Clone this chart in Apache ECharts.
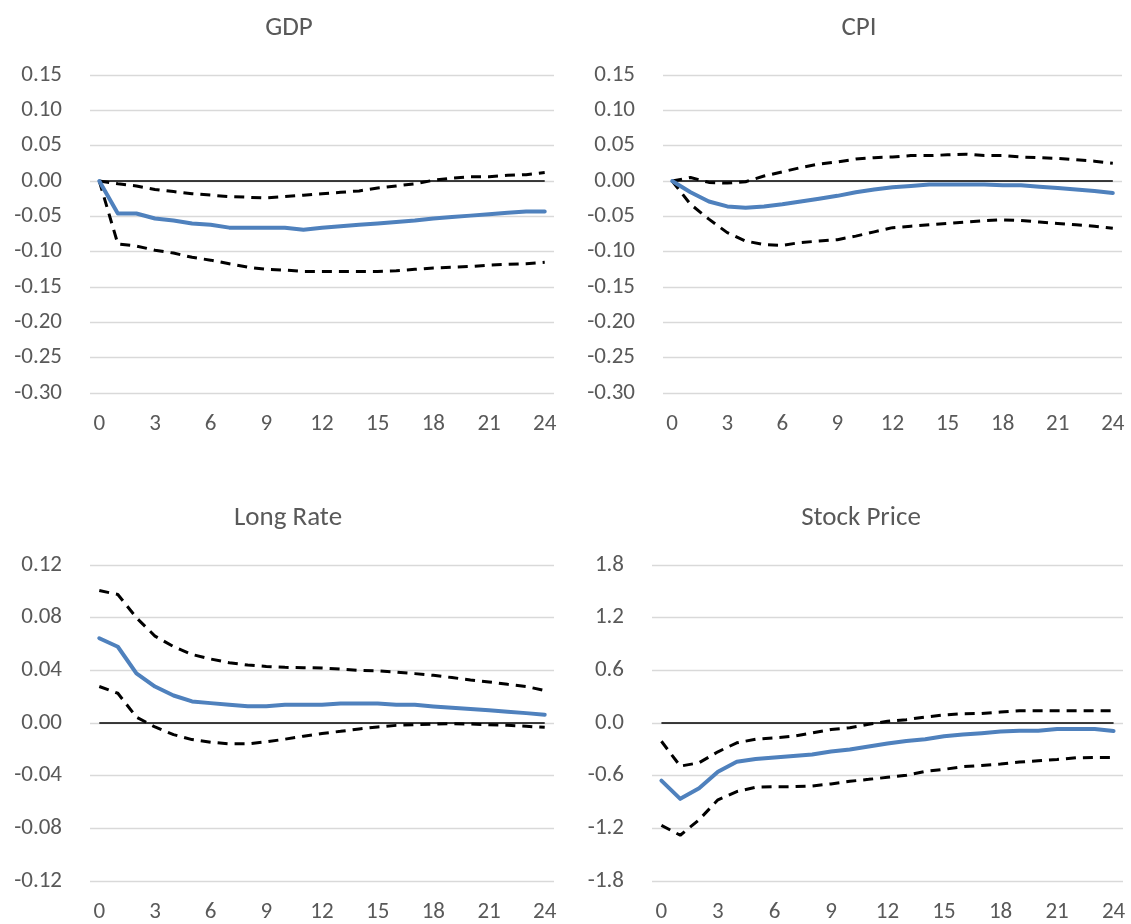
<!DOCTYPE html>
<html>
<head>
<meta charset="utf-8">
<script src="https://cdn.jsdelivr.net/npm/echarts@6/dist/echarts.min.js"></script>
<style>
html,body{margin:0;padding:0;background:#fff;}
#chart{width:1131px;height:924px;}
</style>
</head>
<body>
<div id="chart"></div>
<script>
// Horizons (categories)
const horizons = ['0','1','2','3','4','5','6','7','8','9','10','11','12','13','14','15','16','17','18','19','20','21','22','23','24'];

// Panel titles
const panelTitles = ['GDP', 'CPI', 'Long Rate', 'Stock Price'];

// Y tick labels per panel
const gdpTicks = [-0.30, -0.25, -0.20, -0.15, -0.10, -0.05, 0.00, 0.05, 0.10, 0.15];
const cpiTicks = [-0.30, -0.25, -0.20, -0.15, -0.10, -0.05, 0.00, 0.05, 0.10, 0.15];
const rateTicks = [-0.12, -0.08, -0.04, 0.00, 0.04, 0.08, 0.12];
const stockTicks = [-1.8, -1.2, -0.6, 0.0, 0.6, 1.2, 1.8];

// GDP
const gdpMid = [0, -0.046, -0.046, -0.053, -0.056, -0.060, -0.062, -0.066, -0.066, -0.066, -0.066, -0.069, -0.066, -0.064, -0.062, -0.060, -0.058, -0.056, -0.053, -0.051, -0.049, -0.047, -0.045, -0.043, -0.043];
const gdpUpper = [0, -0.004, -0.007, -0.012, -0.015, -0.018, -0.020, -0.022, -0.023, -0.024, -0.022, -0.020, -0.018, -0.016, -0.014, -0.010, -0.007, -0.004, 0.001, 0.004, 0.006, 0.006, 0.008, 0.009, 0.012];
const gdpLower = [0, -0.089, -0.092, -0.098, -0.102, -0.108, -0.112, -0.117, -0.122, -0.125, -0.126, -0.128, -0.128, -0.128, -0.128, -0.128, -0.127, -0.125, -0.123, -0.122, -0.121, -0.119, -0.118, -0.117, -0.115];

// CPI
const cpiMid = [0, -0.016, -0.029, -0.036, -0.038, -0.036, -0.033, -0.029, -0.025, -0.021, -0.016, -0.012, -0.009, -0.007, -0.005, -0.005, -0.005, -0.005, -0.006, -0.006, -0.008, -0.010, -0.012, -0.014, -0.017];
const cpiUpper = [0, 0.005, -0.002, -0.003, -0.001, 0.007, 0.013, 0.019, 0.024, 0.027, 0.031, 0.033, 0.034, 0.036, 0.036, 0.037, 0.038, 0.036, 0.036, 0.034, 0.033, 0.032, 0.030, 0.028, 0.025];
const cpiLower = [0, -0.033, -0.054, -0.073, -0.085, -0.090, -0.091, -0.087, -0.085, -0.083, -0.078, -0.072, -0.066, -0.064, -0.062, -0.060, -0.058, -0.056, -0.055, -0.056, -0.058, -0.060, -0.062, -0.064, -0.067];

// Long Rate
const rateMid = [0.0644, 0.0579, 0.0377, 0.0277, 0.0209, 0.0164, 0.0151, 0.0138, 0.0128, 0.0128, 0.0138, 0.0138, 0.0138, 0.0148, 0.0148, 0.0148, 0.0138, 0.0138, 0.0126, 0.0116, 0.0106, 0.0096, 0.0086, 0.0075, 0.0063];
const rateUpper = [0.1006, 0.0976, 0.080, 0.066, 0.058, 0.052, 0.0486, 0.0458, 0.044, 0.043, 0.0423, 0.042, 0.0418, 0.041, 0.040, 0.0397, 0.0387, 0.0375, 0.0362, 0.0345, 0.0327, 0.0312, 0.0294, 0.0277, 0.0247];
const rateLower = [0.0277, 0.0226, 0.0045, -0.003, -0.0088, -0.0126, -0.0146, -0.0158, -0.0158, -0.0143, -0.0123, -0.010, -0.008, -0.0063, -0.0045, -0.003, -0.0018, -0.0013, -0.0008, -0.0005, -0.0008, -0.0013, -0.0018, -0.0025, -0.0033];

// Stock Price
const stockMid = [-0.657, -0.864, -0.743, -0.555, -0.442, -0.411, -0.392, -0.377, -0.358, -0.325, -0.302, -0.268, -0.234, -0.204, -0.185, -0.151, -0.132, -0.117, -0.098, -0.087, -0.087, -0.068, -0.068, -0.068, -0.091];
const stockUpper = [-0.208, -0.491, -0.453, -0.328, -0.226, -0.185, -0.170, -0.151, -0.113, -0.075, -0.053, -0.015, 0.019, 0.038, 0.068, 0.091, 0.106, 0.109, 0.125, 0.140, 0.140, 0.140, 0.140, 0.140, 0.140];
const stockLower = [-1.166, -1.279, -1.102, -0.875, -0.781, -0.732, -0.725, -0.725, -0.717, -0.694, -0.664, -0.642, -0.619, -0.596, -0.551, -0.528, -0.498, -0.483, -0.468, -0.445, -0.430, -0.415, -0.396, -0.392, -0.392];

// Zero reference line
const zeroLine = horizons.map(() => 0);

const FONT = 'Carlito, Lato, "Open Sans", sans-serif';
const TEXT = '#595959';
const BLUE = '#4f81bd';

const panels = [
  { title: panelTitles[0], ticks: gdpTicks, dec: 2, mid: gdpMid, up: gdpUpper, lo: gdpLower,
    grid: { left: 90, top: 75, width: 464, height: 318 }, tx: 284, ty: 10 },
  { title: panelTitles[1], ticks: cpiTicks, dec: 2, mid: cpiMid, up: cpiUpper, lo: cpiLower,
    grid: { left: 663, top: 75, width: 459, height: 318 }, tx: 854, ty: 10 },
  { title: panelTitles[2], ticks: rateTicks, dec: 2, mid: rateMid, up: rateUpper, lo: rateLower,
    grid: { left: 90, top: 565, width: 464, height: 317 }, tx: 283, ty: 500 },
  { title: panelTitles[3], ticks: stockTicks, dec: 1, mid: stockMid, up: stockUpper, lo: stockLower,
    grid: { left: 652, top: 565, width: 471, height: 317 }, tx: 856, ty: 500 }
];

const option = {
  backgroundColor: '#fff',
  animation: false,
  title: [], grid: [], xAxis: [], yAxis: [], series: []
};

panels.forEach((p, i) => {
  const t = p.ticks;
  const interval = Math.round((t[1] - t[0]) * 1000) / 1000;
  option.title.push({
    text: p.title, left: p.tx, top: p.ty, textAlign: 'center',
    textStyle: { fontFamily: FONT, fontSize: 27, fontWeight: 'normal', color: TEXT }
  });
  option.grid.push(Object.assign({ containLabel: false }, p.grid));
  option.xAxis.push({
    type: 'category', gridIndex: i, data: horizons, boundaryGap: true,
    axisLine: { show: false }, axisTick: { show: false },
    axisLabel: { interval: 2, margin: 20, fontFamily: FONT, fontSize: 23, color: TEXT },
    splitLine: { show: false }
  });
  option.yAxis.push({
    type: 'value', gridIndex: i, min: t[0], max: t[t.length - 1], interval: interval,
    axisLine: { show: false }, axisTick: { show: false },
    axisLabel: { margin: 28, fontFamily: FONT, fontSize: 23, color: TEXT,
      formatter: v => (Math.abs(v) < 1e-9 ? 0 : v).toFixed(p.dec) },
    splitLine: { show: true, lineStyle: { color: '#d9d9d9', width: 1.3 } }
  });
  option.series.push({
    type: 'line', xAxisIndex: i, yAxisIndex: i, data: zeroLine, symbol: 'none', silent: true,
    lineStyle: { color: '#000', width: 1.3 }, z: 2
  });
  option.series.push({
    type: 'line', xAxisIndex: i, yAxisIndex: i, data: p.up, symbol: 'none',
    lineStyle: { color: '#000', width: 3, type: [10, 7] }, z: 3
  });
  option.series.push({
    type: 'line', xAxisIndex: i, yAxisIndex: i, data: p.lo, symbol: 'none',
    lineStyle: { color: '#000', width: 3, type: [10, 7] }, z: 3
  });
  option.series.push({
    type: 'line', xAxisIndex: i, yAxisIndex: i, data: p.mid, symbol: 'none',
    lineStyle: { color: BLUE, width: 4, join: 'round', cap: 'round' }, z: 4
  });
});

const chart = echarts.init(document.getElementById('chart'), null, { renderer: 'canvas' });
chart.setOption(option);
</script>
</body>
</html>
